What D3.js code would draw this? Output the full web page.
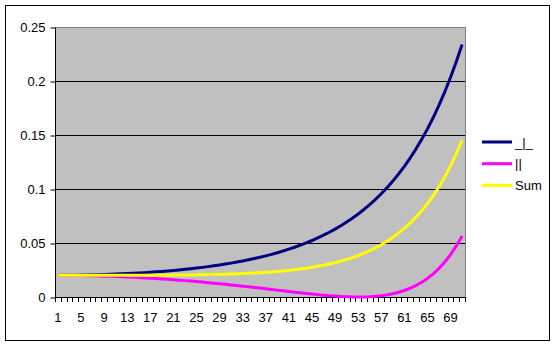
<!DOCTYPE html>
<html>
<head>
<script src="https://d3js.org/d3.v7.min.js"></script>
<style>
  body { margin: 0; padding: 0; background: #fff; }
  text { font-family: "Liberation Sans", Arial, sans-serif; font-size: 13px; fill: #000; }
</style>
</head>
<body>
<script>
// angle of incidence, 1..71
var categories = d3.range(1, 72);

// series
var perp = [0.02007, 0.02010, 0.02014, 0.02021, 0.02029, 0.02039, 0.02052, 0.02066, 0.02082, 0.02100,
            0.02121, 0.02143, 0.02168, 0.02195, 0.02225, 0.02257, 0.02292, 0.02329, 0.02369, 0.02412,
            0.02459, 0.02509, 0.02562, 0.02618, 0.02679, 0.02744, 0.02813, 0.02887, 0.02965, 0.03049,
            0.03138, 0.03233, 0.03334, 0.03442, 0.03557, 0.03680, 0.03810, 0.03950, 0.04099, 0.04258,
            0.04427, 0.04608, 0.04802, 0.05009, 0.05231, 0.05468, 0.05722, 0.05995, 0.06287, 0.06600,
            0.06936, 0.07298, 0.07686, 0.08105, 0.08554, 0.09040, 0.09562, 0.10125, 0.10733, 0.11390,
            0.12099, 0.12866, 0.13696, 0.14594, 0.15566, 0.16619, 0.17762, 0.19000, 0.20344, 0.21803,
            0.23387];
var para = [0.02005, 0.02002, 0.01998, 0.01991, 0.01983, 0.01973, 0.01961, 0.01947, 0.01931, 0.01914,
            0.01895, 0.01873, 0.01850, 0.01825, 0.01798, 0.01769, 0.01739, 0.01706, 0.01672, 0.01636,
            0.01597, 0.01557, 0.01516, 0.01472, 0.01427, 0.01379, 0.01330, 0.01280, 0.01228, 0.01174,
            0.01118, 0.01062, 0.01003, 0.00944, 0.00884, 0.00823, 0.00761, 0.00698, 0.00636, 0.00573,
            0.00511, 0.00449, 0.00389, 0.00330, 0.00273, 0.00220, 0.00170, 0.00124, 0.00084, 0.00050,
            0.00024, 0.00007, 0.00000, 0.00006, 0.00026, 0.00063, 0.00119, 0.00198, 0.00302, 0.00435,
            0.00603, 0.00809, 0.01060, 0.01362, 0.01722, 0.02148, 0.02651, 0.03240, 0.03927, 0.04728,
            0.05657];
var sum = [0.02006, 0.02006, 0.02006, 0.02006, 0.02006, 0.02006, 0.02006, 0.02006, 0.02007, 0.02007,
           0.02008, 0.02008, 0.02009, 0.02010, 0.02011, 0.02013, 0.02015, 0.02018, 0.02021, 0.02024,
           0.02028, 0.02033, 0.02039, 0.02045, 0.02053, 0.02062, 0.02072, 0.02083, 0.02096, 0.02111,
           0.02128, 0.02147, 0.02169, 0.02193, 0.02220, 0.02251, 0.02286, 0.02324, 0.02367, 0.02415,
           0.02469, 0.02529, 0.02595, 0.02670, 0.02752, 0.02844, 0.02946, 0.03060, 0.03185, 0.03325,
           0.03480, 0.03652, 0.03843, 0.04055, 0.04290, 0.04551, 0.04840, 0.05161, 0.05517, 0.05913,
           0.06351, 0.06838, 0.07378, 0.07978, 0.08644, 0.09384, 0.10206, 0.11120, 0.12136, 0.13266,
           0.14522];

var seriesNames = ["_|_", "||", "Sum"];
var seriesColors = ["#000080", "#ff00ff", "#ffff00"];
var yTicks = [0, 0.05, 0.1, 0.15, 0.2, 0.25];

var width = 560, height = 346;
var plot = {left: 55, right: 465, top: 27, bottom: 297};

var svg = d3.select("body").append("svg")
    .attr("width", width)
    .attr("height", height);

// outer chart frame
svg.append("rect")
    .attr("x", 5.5).attr("y", 5.5)
    .attr("width", 544).attr("height", 335)
    .attr("fill", "#fff")
    .attr("stroke", "#000");

var x = d3.scaleBand().domain(categories).range([plot.left, plot.right]);
var y = d3.scaleLinear().domain([0, 0.25]).range([plot.bottom, plot.top]);

// plot area
svg.append("rect")
    .attr("x", plot.left + 0.5).attr("y", plot.top + 0.5)
    .attr("width", plot.right - plot.left).attr("height", plot.bottom - plot.top)
    .attr("fill", "#c0c0c0")
    .attr("stroke", "#808080");

// gridlines
svg.append("g").selectAll("line")
    .data(yTicks.filter(d => d > 0 && d < 0.25))
    .enter().append("line")
    .attr("x1", plot.left).attr("x2", plot.right)
    .attr("y1", d => Math.round(y(d)) + 0.5)
    .attr("y2", d => Math.round(y(d)) + 0.5)
    .attr("stroke", "#000");

// y axis
var yAxis = svg.append("g")
    .attr("transform", "translate(" + (plot.left + 0.5) + ",0.5)")
    .call(d3.axisLeft(y).tickValues(yTicks).tickSize(5).tickPadding(5)
        .tickFormat(d3.format("~g")));
yAxis.select(".domain").attr("d", "M0," + plot.top + "V" + plot.bottom);
yAxis.selectAll("text").style("font-size", "13px").style("font-family", "'Liberation Sans', Arial, sans-serif");

// x axis: ticks between categories
var xg = svg.append("g");
xg.append("line")
    .attr("x1", plot.left).attr("x2", plot.right + 1)
    .attr("y1", plot.bottom + 0.5).attr("y2", plot.bottom + 0.5)
    .attr("stroke", "#000");
xg.selectAll(".tk")
    .data(categories.map(c => x(c)).concat([plot.right]))
    .enter().append("line")
    .attr("class", "tk")
    .attr("x1", d => Math.round(d) + 0.5).attr("x2", d => Math.round(d) + 0.5)
    .attr("y1", plot.bottom).attr("y2", plot.bottom + 5)
    .attr("stroke", "#000");
xg.selectAll("text")
    .data(categories.filter(c => (c - 1) % 4 === 0))
    .enter().append("text")
    .attr("x", d => x(d) + x.bandwidth() / 2)
    .attr("y", 322)
    .attr("text-anchor", "middle")
    .text(d => d);

// series
var line = d3.line()
    .x((d, i) => x(categories[i]) + x.bandwidth() / 2)
    .y(d => y(d));

[perp, para, sum].forEach((s, i) => {
    svg.append("path")
        .datum(s)
        .attr("d", line)
        .attr("fill", "none")
        .attr("stroke", seriesColors[i])
        .attr("stroke-width", 3)
        .attr("stroke-linejoin", "round");
});

// legend
var legend = svg.append("g").selectAll("g")
    .data(seriesNames)
    .enter().append("g")
    .attr("transform", (d, i) => "translate(482," + (142 + i * 21.7) + ")");
legend.append("line")
    .attr("x1", 0).attr("x2", 30)
    .attr("stroke", (d, i) => seriesColors[i])
    .attr("stroke-width", 3);
legend.append("text")
    .attr("x", 33)
    .attr("dy", "0.35em")
    .text(d => d);
</script>
</body>
</html>
